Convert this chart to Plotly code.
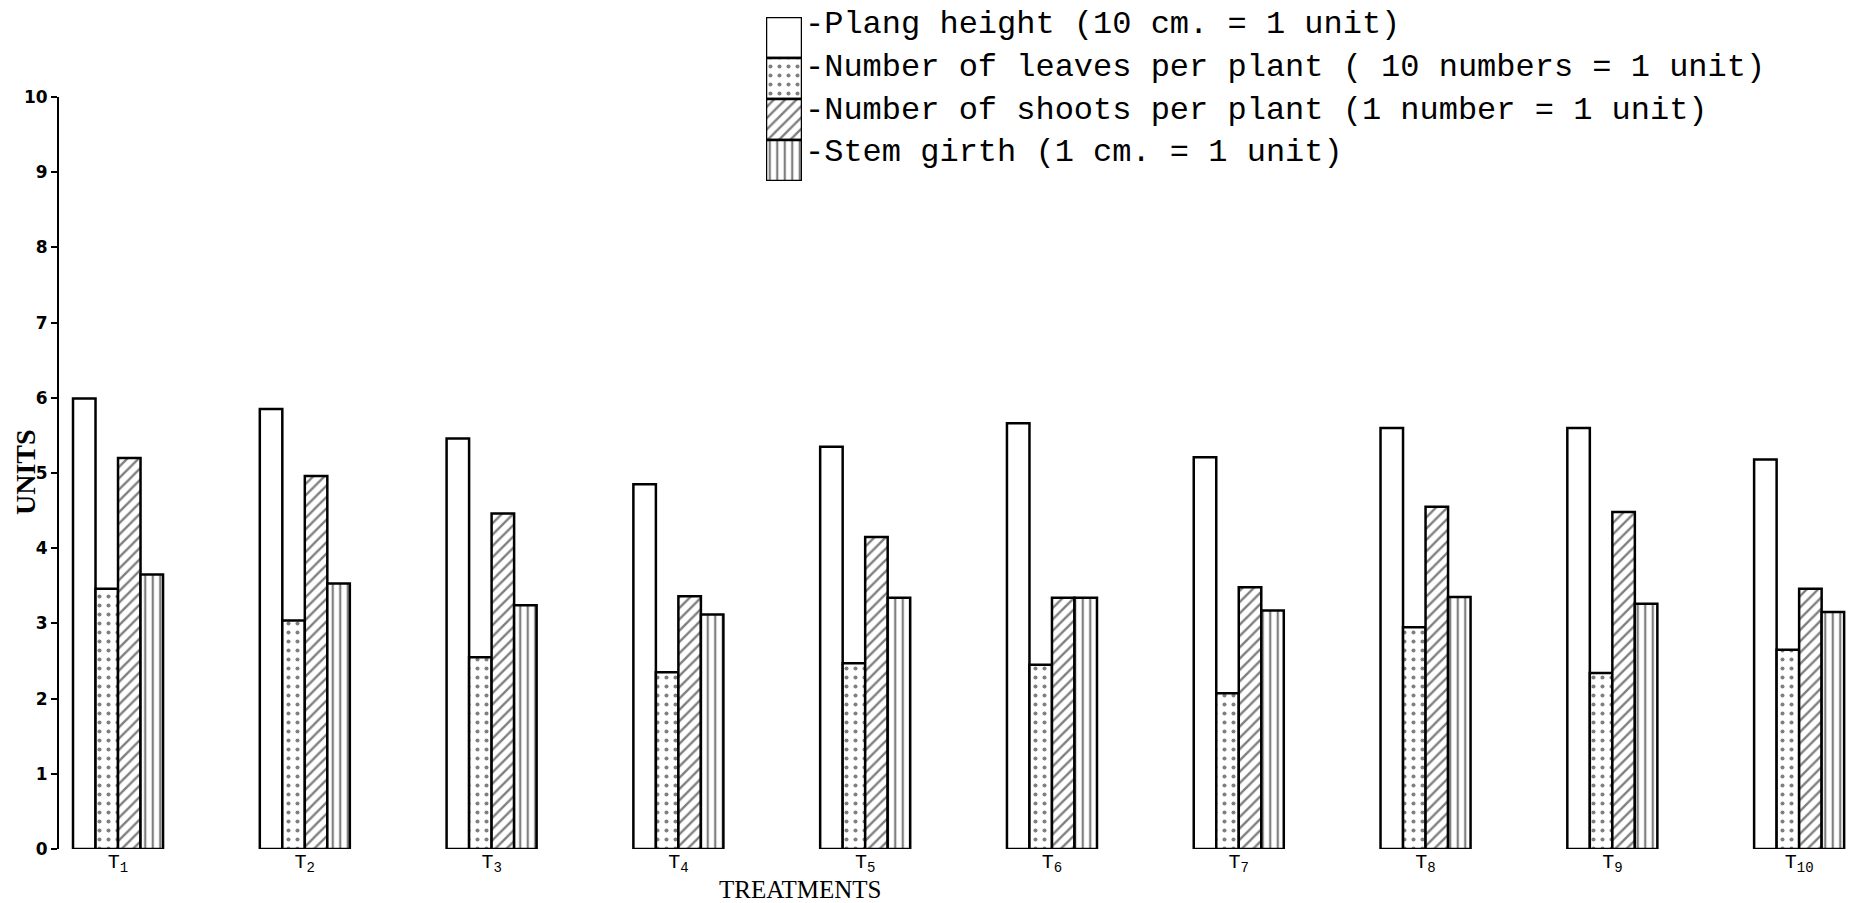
import plotly.graph_objects as go

# ---------------- data ----------------
treatments = ["T1", "T2", "T3", "T4", "T5", "T6", "T7", "T8", "T9", "T10"]
tick_labels = ["T<sub>1</sub>", "T<sub>2</sub>", "T<sub>3</sub>", "T<sub>4</sub>", "T<sub>5</sub>",
               "T<sub>6</sub>", "T<sub>7</sub>", "T<sub>8</sub>", "T<sub>9</sub>", "T<sub>10</sub>"]

series_names = [
    "-Plang height (10 cm. = 1 unit)",
    "-Number of leaves per plant ( 10 numbers = 1 unit)",
    "-Number of shoots per plant (1 number = 1 unit)",
    "-Stem girth (1 cm. = 1 unit)",
]

plant_height = [5.99, 5.85, 5.46, 4.85, 5.35, 5.66, 5.21, 5.60, 5.60, 5.18]
leaves_per_plant = [3.46, 3.04, 2.55, 2.35, 2.47, 2.45, 2.07, 2.95, 2.34, 2.65]
shoots_per_plant = [5.20, 4.96, 4.46, 3.36, 4.15, 3.34, 3.48, 4.55, 4.48, 3.46]
stem_girth = [3.65, 3.53, 3.24, 3.12, 3.34, 3.34, 3.17, 3.35, 3.26, 3.15]

y_ticks = list(range(0, 11))

# ---------------- styling ----------------
series_values = [plant_height, leaves_per_plant, shoots_per_plant, stem_girth]
patterns = [
    None,
    dict(shape=".", fgcolor="black", bgcolor="white", size=9, solidity=0.16),
    dict(shape="/", fgcolor="black", bgcolor="white", size=8, solidity=0.3),
    dict(shape="|", fgcolor="black", bgcolor="white", size=7.5, solidity=0.3),
]

W, H = 1849, 903
ML, MR, MT, MB = 59, 0, 0, 54
plot_h = H - MT - MB          # 849 px of paper height
axis_top_px = 97              # pixel where y=10 sits


def py(px):
    """pixel row (from top) -> paper y"""
    return (plot_h - px) / plot_h


def px_x(px):
    return (px - ML) / (W - ML - MR)


def marker_for(i):
    m = dict(color="white", line=dict(color="black", width=2.5))
    if patterns[i] is not None:
        m["pattern"] = patterns[i]
    return m


fig = go.Figure()

for i, (name, vals) in enumerate(zip(series_names, series_values)):
    fig.add_trace(go.Bar(
        x=treatments, y=vals, name=name,
        marker=marker_for(i), showlegend=False,
    ))

# custom tall legend swatches (stacked boxes)
n = len(series_names)
for i, name in enumerate(series_names):
    fig.add_trace(go.Bar(
        x=[0], y=[1], base=[n - 1 - i], width=[1], offset=-0.5,
        xaxis="x2", yaxis="y2", marker=marker_for(i),
        showlegend=False, hoverinfo="skip",
    ))

annotations = []
row0, row_step = 25, 42.5
for i, name in enumerate(series_names):
    annotations.append(dict(
        text=name, xref="paper", yref="paper",
        x=px_x(803), y=py(row0 + row_step * i),
        xanchor="left", yanchor="middle", showarrow=False,
        font=dict(family="Liberation Mono", size=32, color="black"),
    ))

annotations.append(dict(
    text="TREATMENTS", xref="paper", yref="paper",
    x=px_x(800), y=py(890), xanchor="center", yanchor="middle",
    showarrow=False, borderpad=0,
    font=dict(family="Liberation Serif", size=25, color="black"),
))
annotations.append(dict(
    text="UNITS", xref="paper", yref="paper", textangle=-90,
    x=px_x(26), y=py(472), xanchor="center", yanchor="middle",
    showarrow=False, font=dict(family="Liberation Serif", size=28, color="black", weight="bold"),
))

fig.update_layout(
    width=W, height=H,
    margin=dict(l=ML, r=MR, t=MT, b=MB, pad=0, autoexpand=False),
    paper_bgcolor="white", plot_bgcolor="rgba(0,0,0,0)",
    barmode="group", bargap=0.518, bargroupgap=0,
    annotations=annotations,
    xaxis=dict(
        type="category", domain=[0, 1], range=[-0.316, 9.267],
        tickvals=treatments, ticktext=tick_labels,
        showline=False, showgrid=False, zeroline=False,
        ticks="", ticklabelstandoff=-2,
        tickfont=dict(family="Liberation Mono", size=20, color="black"),
    ),
    yaxis=dict(
        domain=[0, py(axis_top_px)], range=[0, 10],
        tickvals=y_ticks, ticktext=[str(v) for v in y_ticks],
        showline=True, linecolor="black", linewidth=2,
        ticks="outside", ticklen=6, tickwidth=2, tickcolor="black",
        showgrid=False, zeroline=False,
        tickfont=dict(family="DejaVu Sans", size=17, color="black", weight="bold"),
    ),
    xaxis2=dict(domain=[px_x(766), px_x(802)], range=[-0.5, 0.5], anchor="y2",
                visible=False, fixedrange=True),
    yaxis2=dict(domain=[py(181), py(17)], range=[0, n], anchor="x2",
                visible=False, fixedrange=True),
)

fig.write_html(
    "out.html",
    config={"displayModeBar": False},
    post_script="document.body.style.margin='0';document.body.style.overflow='hidden';",
)
